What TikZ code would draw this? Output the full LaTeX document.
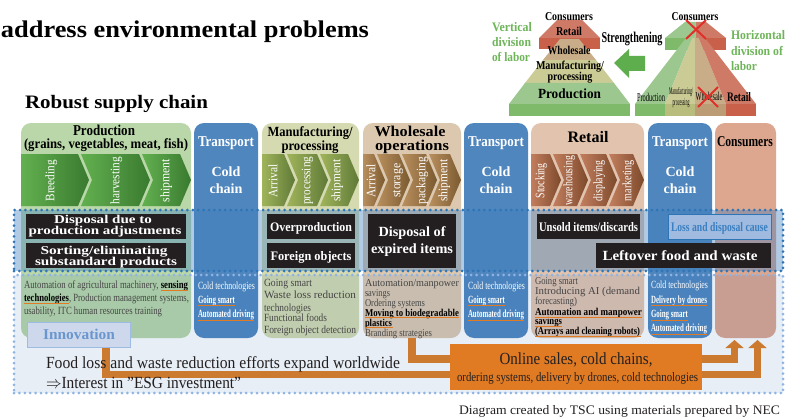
\documentclass[tikz,border=0pt]{standalone}
\usepackage{graphicx}
\usepackage{fontspec}
\setmainfont{Liberation Serif}
\usetikzlibrary{arrows.meta,calc}
\definecolor{blk}{HTML}{231F20}
\definecolor{trn}{HTML}{4F86BE}
\definecolor{orng}{HTML}{E07B24}
\definecolor{conn}{HTML}{CC7A30}
\definecolor{pg}{HTML}{9CC88F}
\definecolor{pgd}{HTML}{7FBA6A}
\definecolor{pm}{HTML}{CBCC95}
\definecolor{pmd}{HTML}{B8BC7C}
\definecolor{pw}{HTML}{C9AD88}
\definecolor{pwd}{HTML}{BC9C74}
\definecolor{pr}{HTML}{CE7A66}
\definecolor{prd}{HTML}{C8604A}
\definecolor{grtx}{HTML}{6EB55A}
\definecolor{garr}{HTML}{5FAE4E}
\definecolor{lowtx}{HTML}{454545}
\definecolor{cprod}{HTML}{B9D7A8}
\definecolor{cmfg}{HTML}{D5DAB0}
\definecolor{cwh}{HTML}{DCC8AE}
\definecolor{cret}{HTML}{E2C4AE}
\definecolor{ccon}{HTML}{DDA68F}
\definecolor{ovmid}{HTML}{3F7FBF}
\definecolor{ovlow}{HTML}{195FAF}
\definecolor{dotdk}{HTML}{2E75B6}
\definecolor{dotlt}{HTML}{8FB4E3}
\definecolor{xred}{HTML}{E0302A}
\definecolor{lossf}{HTML}{A0BBDF}
\definecolor{losst}{HTML}{3A7FC0}
\definecolor{innf}{HTML}{CDD8EC}
\definecolor{innd}{HTML}{9DBBE3}
\definecolor{innt}{HTML}{6A96CE}
\definecolor{chga}{HTML}{62B04F}\definecolor{chgb}{HTML}{3A7A30}
\definecolor{chma}{HTML}{A0B45A}\definecolor{chmb}{HTML}{5F7A38}
\definecolor{chwa}{HTML}{B98F5E}\definecolor{chwb}{HTML}{7A5A30}
\definecolor{chra}{HTML}{C27E5E}\definecolor{chrb}{HTML}{7D4A2C}
\newcounter{tn}
\newsavebox\tbx
\tikzset{
  txt/.style={inner sep=0pt,outer sep=0pt,anchor=mid west},
  ctr/.style={anchor=mid},
  col/.style={rounded corners=10pt,inner sep=0pt,outer sep=0pt},
  blkbox/.style={fill=blk,inner sep=0pt,outer sep=0pt},
  dotted band/.style={inner sep=0pt,outer sep=0pt,line width=3pt,line cap=round,dash pattern=on 0pt off 5.4pt},
  ulc/.style={draw=orng,line width=1pt},
  connector/.style={draw=conn,line width=7.5pt},
  xmark/.style={draw=xred,line width=2pt}
}
\newcommand\fitw[3]{\sbox\tbx{\fontsize{#2}{#2}\selectfont #3}\edef\tww{\the\wd\tbx}\pgfmathsetmacro\fs{#1/\tww}\scalebox{\fs}[1]{\usebox\tbx}}
\newcommand\Tx[6][]{\stepcounter{tn}\node[txt,#1] (t\thetn) at (#2,{#3+.3*#5-2.15}) {\fitw{#4}{#5}{#6}};}
\newcommand\colm[4]{\node[col,fill=#4,minimum width={#3-#2},minimum height=215] (#1) at ({(#2+#3)/2},230.5) {};}
\newcommand\chev[5]{\shade[left color=#4,right color=#5] (#1,154)--({#2-11},154)--(#2,180)--({#2-11},206)--(#1,206)--({#1+#3},180)--cycle;}
\newcommand\blkb[5]{\node[blkbox,minimum width={#3-#2},minimum height={#5-#4}] (#1) at ({(#2+#3)/2},{(#4+#5)/2}) {};}
\newcommand\ull[3]{\draw[ulc] (#1,#3)--(#2,#3);}
\begin{document}
\begin{tikzpicture}[x=1pt,y=-1pt]
\useasboundingbox (0,0) rectangle (794,417);
\fill[white] (0,0) rectangle (794,417);
% title
\Tx{1}{30}{368}{24}{\bfseries address environmental problems}
\Tx{25}{103}{183}{19}{\bfseries Robust supply chain}
% pyramids
\fill[pr] (557,20)--(582,20)--(600,38)--(539,38)--cycle;
\fill[prd] (539,38) rectangle (600,49);
\fill[pw] (560,39)--(579,39)--(596,60)--(543,60)--cycle;
\fill[pm] (543,60)--(596,60)--(614,83)--(525,83)--cycle;
\fill[pg] (525,83)--(614,83)--(630,104)--(509,104)--cycle;
\fill[pgd] (509,104) rectangle (630,116);
\fill[pg] (685,22)--(695.5,22)--(695.5,38)--(665,38)--cycle;
\fill[pr] (695.5,22)--(706,22)--(726,38)--(695.5,38)--cycle;
\fill[pgd] (665,38) rectangle (695.5,50);
\fill[prd] (695.5,38) rectangle (726,50);
\fill[pg] (635,104)--(665,104)--(692,38)--(686,38)--cycle;
\fill[pm] (665,104)--(695,104)--(695,38)--(692,38)--cycle;
\fill[pw] (695,104)--(726,104)--(699,38)--(695,38)--cycle;
\fill[pr] (726,104)--(756,104)--(705,38)--(699,38)--cycle;
\fill[pgd] (635,104) rectangle (665,116);
\fill[pmd] (665,104) rectangle (695,116);
\fill[pwd] (695,104) rectangle (726,116);
\fill[prd] (726,104) rectangle (756,116);
\fill[garr] (614,63)--(629,49)--(629,56)--(645,56)--(645,71)--(629,71)--(629,78)--cycle;
\Tx[ctr]{569}{17}{48}{12}{\bfseries Consumers}
\Tx[ctr]{569}{32}{26}{12}{\bfseries Retail}
\Tx[ctr]{569}{51}{43}{12}{\bfseries Wholesale}
\Tx[ctr]{570}{66}{68}{12}{\bfseries Manufacturing/}
\Tx[ctr]{570}{77}{45}{12}{\bfseries processing}
\Tx[ctr]{569.5}{94}{63}{14}{\bfseries Production}
\Tx[ctr]{695}{17}{47}{12}{\bfseries Consumers}
\Tx[ctr]{651}{98}{28}{12}{Production}
\Tx[ctr]{681}{91}{24}{10}{Manufacturing/}
\Tx[ctr]{681}{102}{17}{10}{processing}
\Tx[ctr]{709}{97}{27}{12}{Wholesale}
\Tx[ctr]{739}{97}{24}{13}{\bfseries Retail}
\draw[xmark] (686,20)--(706,39) (706,20)--(686,39);
\draw[xmark] (698,87)--(718,107) (718,87)--(698,107);
\Tx[ctr]{632}{38}{61}{15}{\bfseries Strengthening}
\Tx[grtx]{492}{27}{40}{13}{\bfseries Vertical}
\Tx[grtx]{492}{42}{39}{13}{\bfseries division}
\Tx[grtx]{492}{57}{38}{13}{\bfseries of labor}
\Tx[grtx]{731}{35}{54}{13}{\bfseries Horizontal}
\Tx[grtx]{731}{51}{52}{13}{\bfseries division of}
\Tx[grtx]{731}{66}{26}{13}{\bfseries labor}
% columns
\colm{prod}{21}{191}{cprod}
\colm{tr1}{194}{258}{trn}
\colm{mfg}{262}{359}{cmfg}
\colm{whole}{363}{461}{cwh}
\colm{tr2}{464}{528}{trn}
\colm{ret}{531}{644}{cret}
\colm{tr3}{648}{712}{trn}
\colm{cons}{715}{776}{ccon}
% chevrons
\chev{21}{89}{0}{chga}{chgb}\chev{81}{150}{11}{chga}{chgb}\chev{142}{191}{11}{chga}{chgb}
\chev{262}{295}{0}{chma}{chmb}\chev{287}{328}{11}{chma}{chmb}\chev{320}{359}{11}{chma}{chmb}
\chev{363}{385}{0}{chwa}{chwb}\chev{377}{410}{11}{chwa}{chwb}\chev{402}{437}{11}{chwa}{chwb}\chev{429}{461}{11}{chwa}{chwb}
\chev{531}{561}{0}{chra}{chrb}\chev{553}{588}{11}{chra}{chrb}\chev{580}{617}{11}{chra}{chrb}\chev{609}{644}{11}{chra}{chrb}
% bands
\node[dotted band,fill=ovlow,fill opacity=.1,draw=none,minimum width=769,minimum height=118] (lowb) at (398.5,334) {};
\node[dotted band,draw=dotlt,minimum width=769,minimum height=118] (lowd) at (398.5,334) {};
\node[dotted band,fill=ovmid,fill opacity=.4,draw=none,minimum width=769,minimum height=61] (midb) at (398.5,240.5) {};
\node[dotted band,draw=dotdk,minimum width=769,minimum height=61] (midd) at (398.5,240.5) {};
% chevron labels
\foreach \xx/\wwd/\sss in {52/41/Breeding,117/47/harvesting,167/43/shipment,275/33/Arrival,308/48/processing,338/42/shipment,373/33/Arrival,398/34/storage,423/47/packaging,445/42/shipment,542/35/Stocking,570/50/warehousing,600/41/displaying,629/41/marketing}{
  \Tx[ctr,rotate=90,white]{\xx}{179}{\wwd}{13}{\sss}
}
% headers
\Tx[ctr]{104}{131}{62}{15}{\bfseries Production}
\Tx[ctr]{106}{144}{164}{14}{\bfseries (grains, vegetables, meat, fish)}
\Tx[ctr]{310}{132}{85}{14}{\bfseries Manufacturing/}
\Tx[ctr]{310}{146}{57}{14}{\bfseries processing}
\Tx[ctr]{410}{132}{71}{15}{\bfseries Wholesale}
\Tx[ctr]{412}{146}{74}{15}{\bfseries operations}
\Tx[ctr]{588}{138}{41}{16}{\bfseries Retail}
\Tx[ctr]{745}{142}{56}{15}{\bfseries Consumers}
\foreach \xx in {226,496,680}{
  \Tx[ctr,white]{\xx}{142}{56}{15}{\bfseries Transport}
  \Tx[ctr,white]{\xx}{172}{29}{14}{\bfseries Cold}
  \Tx[ctr,white]{\xx}{189}{33}{14}{\bfseries chain}
}
% black boxes
\blkb{b1}{26}{186}{214}{239}
\blkb{b2}{26}{186}{243}{268}
\blkb{b3}{267}{355}{214}{239}
\blkb{b4}{267}{355}{243}{268}
\blkb{b5}{368}{456}{214}{268}
\blkb{b6}{537}{640}{214}{239}
\blkb{b7}{596}{771}{243}{268}
\node[fill=lossf,draw=dotdk,line width=1pt,inner sep=0pt,minimum width=103,minimum height=25] (loss) at (719.5,226.5) {};
\Tx[ctr,white]{103}{220}{98}{12}{\bfseries Disposal due to}
\Tx[ctr,white]{105}{231}{153}{12}{\bfseries production adjustments}
\Tx[ctr,white]{104}{251}{127}{12}{\bfseries Sorting/eliminating}
\Tx[ctr,white]{106}{262}{142}{12}{\bfseries substandard products}
\Tx[ctr,white]{311}{227}{82}{13}{\bfseries Overproduction}
\Tx[ctr,white]{311}{256}{81}{13}{\bfseries Foreign objects}
\Tx[ctr,white]{412}{232}{67}{14}{\bfseries Disposal of}
\Tx[ctr,white]{412}{249}{82}{14}{\bfseries expired items}
\Tx[ctr,white]{588.5}{227}{99}{13}{\bfseries Unsold items/discards}
\Tx[ctr,white]{680}{256}{155}{14}{\bfseries Leftover food and waste}
\Tx[ctr,losst]{719.5}{227}{97}{13}{\bfseries Loss and disposal cause}
% lower texts: production
\Tx[lowtx]{24}{285}{164}{11}{Automation of agricultural machinery, {\bfseries\color{black}sensing}}
\Tx[lowtx]{24}{298}{165}{11}{{\bfseries\color{black}technologies}, Production management systems,}
\Tx[lowtx]{24}{311}{138}{11}{usability, ITC human resources training}
\ull{160.5}{188}{290.5}\ull{24}{69}{303.5}
% transport 1, 2
\foreach \xx in {198,468}{
  \Tx[white]{\xx}{286}{57}{11}{Cold technologies}
  \Tx[white]{\xx}{300}{37}{11}{\bfseries Going smart}
  \Tx[white]{\xx}{314}{56}{11}{\bfseries Automated driving}
  \ull{\xx}{\xx+37}{305.5}
  \ull{\xx}{\xx+56}{320}
}
\Tx[white]{651}{285}{57}{11}{Cold technologies}
\Tx[white]{651}{300}{56}{11}{\bfseries Delivery by drones}
\Tx[white]{651}{314}{37}{11}{\bfseries Going smart}
\Tx[white]{651}{328}{56}{11}{\bfseries Automated driving}
\ull{651}{707}{305.5}\ull{651}{688}{320}\ull{651}{707}{334}
% manufacturing
\Tx[lowtx]{264}{283}{48}{11}{Going smart}
\Tx[lowtx]{264}{295}{92}{11}{Waste loss reduction}
\Tx[lowtx]{264}{308}{47}{11}{technologies}
\Tx[lowtx]{264}{318}{63}{11}{Functional foods}
\Tx[lowtx]{264}{330}{92}{11}{Foreign object detection}
% wholesale
\Tx[lowtx]{365}{283}{94}{10.5}{Automation/manpower}
\Tx[lowtx]{365}{293}{25}{10.5}{savings}
\Tx[lowtx]{365}{303}{60}{10.5}{Ordering systems}
\Tx[black]{365}{313}{94}{10.5}{\bfseries Moving to biodegradable}
\Tx[black]{365}{323}{27}{10.5}{\bfseries plastics}
\Tx[lowtx]{365}{333}{67}{10.5}{Branding strategies}
\ull{365}{459}{317.5}\ull{365}{393}{327.5}
% retail
\Tx[lowtx]{535}{281}{43}{10.5}{Going smart}
\Tx[lowtx]{535}{291}{105}{10.5}{Introducing AI (demand}
\Tx[lowtx]{535}{301}{42}{10.5}{forecasting)}
\Tx[black]{535}{312}{107}{10.5}{\bfseries Automation and manpower}
\Tx[black]{535}{321}{27}{10.5}{\bfseries savings}
\Tx[black]{535}{331}{105}{10.5}{\bfseries (Arrays and cleaning robots)}
\ull{535}{642}{317}\ull{535}{562}{326}\ull{535}{641}{336}
% innovation & online
\node[fill=innf,draw=innd,line width=1pt,inner sep=0pt,minimum width=103,minimum height=25] (innov) at (78.5,334.5) {};
\Tx[ctr,innt]{79}{335}{72}{15}{\bfseries Innovation}
\node[fill=orng,inner sep=0pt,outer sep=0pt,minimum width=252,minimum height=46] (online) at (576,367) {};
\draw[connector] ([xshift=27.5pt]innov.south) |- ([yshift=-7.5pt]online.west);
\draw[connector] (whole.south) |- ([yshift=8pt]online.west);
\draw[connector,-{Triangle[width=18pt,length=8pt]},shorten >=2pt] ([yshift=8pt]online.east) -| ([xshift=-11pt]cons.south);
\draw[connector,-{Triangle[width=18pt,length=8pt]},shorten >=2pt] ([yshift=-7.5pt]online.east) -| ([xshift=12pt]cons.south);
\Tx[ctr,blk]{576}{359}{153}{17}{Online sales, cold chains,}
\Tx[ctr,blk]{577.5}{377}{241}{13}{ordering systems, delivery by drones, cold technologies}
\Tx[blk]{46}{363}{354}{17}{Food loss and waste reduction efforts expand worldwide}
\Tx[blk]{46}{383}{195}{17}{$\Rightarrow$Interest in "ESG investment"}
\Tx[blk]{459}{410}{321}{13}{Diagram created by TSC using materials prepared by NEC}
\end{tikzpicture}
\end{document}
